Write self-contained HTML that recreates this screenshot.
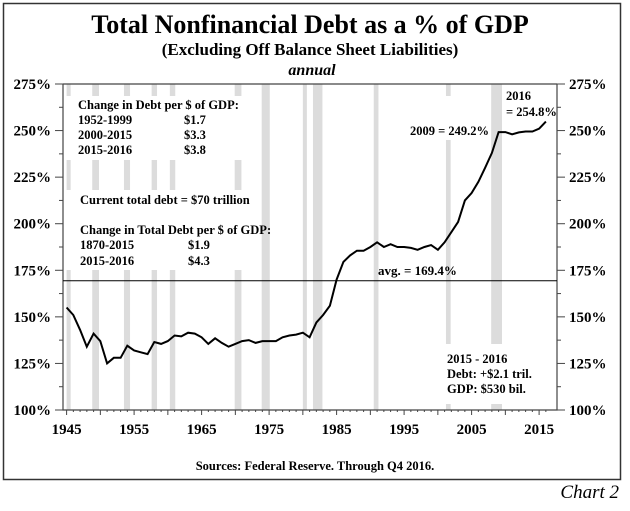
<!DOCTYPE html>
<html><head><meta charset="utf-8"><style>
body{margin:0;background:#fff;}
svg text{font-family:"Liberation Serif",serif;font-weight:bold;fill:#000;}
</style></head><body>
<svg width="630" height="506" viewBox="0 0 630 506">
<rect x="3.5" y="3.5" width="617" height="476" fill="none" stroke="#333" stroke-width="1.5"/>
<text x="310" y="33" font-size="26" text-anchor="middle">Total Nonfinancial Debt as a % of GDP</text>
<text x="310" y="55" font-size="17" text-anchor="middle">(Excluding Off Balance Sheet Liabilities)</text>
<text x="312" y="75" font-size="16" font-style="italic" text-anchor="middle">annual</text>
<g id="rec"></g>
<g id="axes"></g>
<line id="avg" stroke="#000" stroke-width="1"/>
<path id="series" fill="none" stroke="#000" stroke-width="2"/>
<g font-size="12.5">
<text x="78" y="109">Change in Debt per $ of GDP:</text>
<text x="78" y="124">1952-1999</text><text x="184" y="124">$1.7</text>
<text x="78" y="139">2000-2015</text><text x="184" y="139">$3.3</text>
<text x="78" y="154">2015-2016</text><text x="184" y="154">$3.8</text>
<text x="80" y="204">Current total debt = $70 trillion</text>
<text x="80" y="234">Change in Total Debt per $ of GDP:</text>
<text x="80" y="249">1870-2015</text><text x="188" y="249">$1.9</text>
<text x="80" y="265">2015-2016</text><text x="188" y="265">$4.3</text>
<text x="378" y="275" font-size="13">avg.  = 169.4%</text>
<text x="410" y="135">2009 = 249.2%</text>
<text x="506" y="100">2016</text>
<text x="506" y="116">= 254.8%</text>
<text x="447" y="363">2015 - 2016</text>
<text x="447" y="378">Debt:  +$2.1 tril.</text>
<text x="447" y="393">GDP:  $530 bil.</text>
</g>
<text x="315" y="470" font-size="12.5" text-anchor="middle">Sources: Federal Reserve. Through Q4 2016.</text>
<text x="619" y="498" font-size="19" font-style="italic" text-anchor="end" style="font-weight:normal">Chart 2</text>
</svg>
<script>
const years=[1945,1946,1947,1948,1949,1950,1951,1952,1953,1954,1955,1956,1957,1958,1959,1960,1961,1962,1963,1964,1965,1966,1967,1968,1969,1970,1971,1972,1973,1974,1975,1976,1977,1978,1979,1980,1981,1982,1983,1984,1985,1986,1987,1988,1989,1990,1991,1992,1993,1994,1995,1996,1997,1998,1999,2000,2001,2002,2003,2004,2005,2006,2007,2008,2009,2010,2011,2012,2013,2014,2015,2016];
const debtPct=[155,151,143,134,141,137,125,128,128,134.5,132,131,130,136.5,135.5,137,140,139.5,141.5,141,139,135.5,138.5,136,134,135.5,137,137.5,136,137,137,137,139,140,140.5,141.5,139,147,151,156,170,179.5,183,185.5,185.5,187.5,190,187.5,189,187.5,187.5,187,186,187.5,188.5,186,190,195.5,201,212.5,216.5,222.5,230,238,249.2,249.2,248,249,249.5,249.5,251,254.8];
const avgValue=169.4;
const yTicks=[100,125,150,175,200,225,250,275];
const xTicks=[1945,1955,1965,1975,1985,1995,2005,2015];
const recStart=[1945,1948.8,1953.5,1957.6,1960.3,1969.9,1973.9,1980,1981.5,1990.5,2001.2,2007.9];
const recEnd=[1945.6,1949.8,1954.4,1958.4,1961.1,1970.9,1975.1,1980.6,1982.9,1991.2,2001.9,2009.5];
const L=63,R=557,T=84,B=410;
const x=v=>66.6+(v-1945)*6.75;
const y=v=>B-(v-100)*(B-T)/175;
const NS='http://www.w3.org/2000/svg';
function mk(tag,parent,attrs){const e=document.createElementNS(NS,tag);for(const k in attrs)e.setAttribute(k,attrs[k]);parent.appendChild(e);return e;}
const rec=document.getElementById('rec');
for(let i=0;i<recStart.length;i++){
  const x0=x(recStart[i]),w=Math.max(4,x(recEnd[i])-x0);
  const xc=x0+w/2;
  let cut=[];
  if(xc<260){cut=[[96,160],[190,270]];}
  else if(xc>395&&xc<470){cut=[[96,140]];}
  if(xc>440&&xc<520){cut=cut.concat([[344,404]]);}
  let y0=T;
  cut.sort((a,b)=>a[0]-b[0]);
  const parts=[];
  for(const c of cut){if(c[0]>y0)parts.push([y0,c[0]]);y0=Math.max(y0,c[1]);}
  if(y0<B)parts.push([y0,B]);
  for(const p of parts){
    const r=mk('rect',rec,{x:x0,y:p[0],width:w,height:p[1]-p[0],fill:'#dcdcdc'});
    
    
  }
}
const ax=document.getElementById('axes');
const frame=mk('path',ax,{d:`M${L},${T}H${R}M${L},${T}V${B}H${R}V${T}`,stroke:'#444',fill:'none','stroke-width':1.2});


yTicks.forEach((v,i)=>{
  mk('line',ax,{x1:L-8,x2:L,y1:y(v),y2:y(v),stroke:'#444'});
  mk('line',ax,{x1:R,x2:R+8,y1:y(v),y2:y(v),stroke:'#444'});
  if(i<yTicks.length-1){const m=y(v+12.5);mk('line',ax,{x1:L-4,x2:L,y1:m,y2:m,stroke:'#444'});mk('line',ax,{x1:R,x2:R+4,y1:m,y2:m,stroke:'#444'});}
  const t1=mk('text',ax,{x:L-12,y:y(v)+5,'font-size':15,'text-anchor':'end'});t1.textContent=v+'%';
  
  
  const t2=mk('text',ax,{x:R+12,y:y(v)+5,'font-size':15});t2.textContent=v+'%';
  
  
});
for(let yr=1945;yr<=2016;yr++){mk('line',ax,{x1:x(yr),x2:x(yr),y1:B,y2:B+(yr%5==0?5:2),stroke:'#444'});}
xTicks.forEach(v=>{
  const t=mk('text',ax,{x:x(v),y:B+24,'font-size':15,'text-anchor':'middle'});t.textContent=v;
  
  
});
const a=document.getElementById('avg');
a.setAttribute('x1',L);a.setAttribute('x2',R);a.setAttribute('y1',y(avgValue));a.setAttribute('y2',y(avgValue));
document.getElementById('series').setAttribute('d',years.map((yr,i)=>(i?'L':'M')+x(yr).toFixed(1)+','+y(debtPct[i]).toFixed(1)).join(''));
</script>
</body></html>
